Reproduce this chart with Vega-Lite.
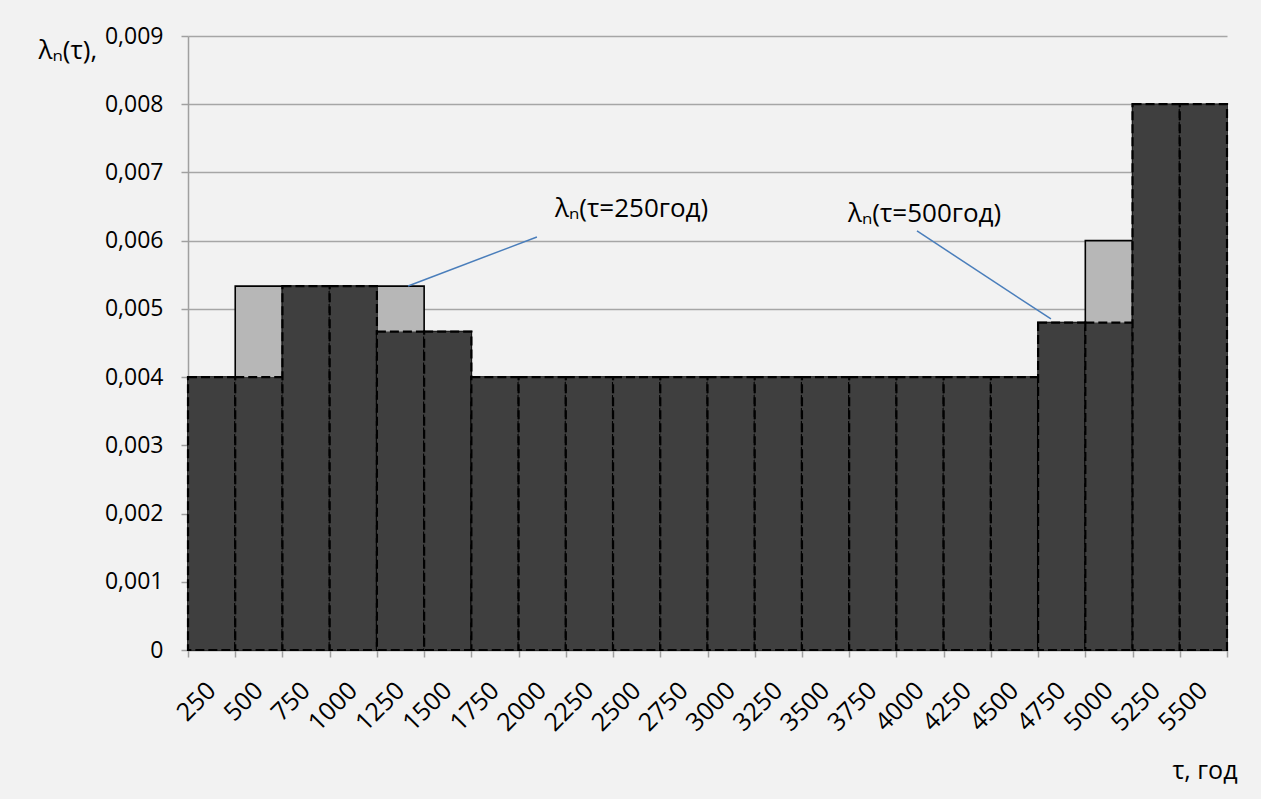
{
  "$schema": "https://vega.github.io/schema/vega-lite/v6.json",
  "autosize": {"type": "none"},
  "width": 1039,
  "height": 614,
  "padding": {"left": 188, "top": 36, "right": 34, "bottom": 149},
  "background": "#f2f2f2",
  "config": {
    "view": {"stroke": null},
    "font": "Open Sans",
    "axis": {"labelFont": "Open Sans", "titleFont": "Open Sans", "labelColor": "#000000", "titleColor": "#000000"}
  },
  "datasets": {
    "bars": [
      {"tau": 250, "lam250": 0.004, "lam500": 0.004},
      {"tau": 500, "lam250": 0.005333, "lam500": 0.004},
      {"tau": 750, "lam250": 0.005333, "lam500": 0.005333},
      {"tau": 1000, "lam250": 0.005333, "lam500": 0.005333},
      {"tau": 1250, "lam250": 0.005333, "lam500": 0.004667},
      {"tau": 1500, "lam250": 0.004667, "lam500": 0.004667},
      {"tau": 1750, "lam250": 0.004, "lam500": 0.004},
      {"tau": 2000, "lam250": 0.004, "lam500": 0.004},
      {"tau": 2250, "lam250": 0.004, "lam500": 0.004},
      {"tau": 2500, "lam250": 0.004, "lam500": 0.004},
      {"tau": 2750, "lam250": 0.004, "lam500": 0.004},
      {"tau": 3000, "lam250": 0.004, "lam500": 0.004},
      {"tau": 3250, "lam250": 0.004, "lam500": 0.004},
      {"tau": 3500, "lam250": 0.004, "lam500": 0.004},
      {"tau": 3750, "lam250": 0.004, "lam500": 0.004},
      {"tau": 4000, "lam250": 0.004, "lam500": 0.004},
      {"tau": 4250, "lam250": 0.004, "lam500": 0.004},
      {"tau": 4500, "lam250": 0.004, "lam500": 0.004},
      {"tau": 4750, "lam250": 0.0048, "lam500": 0.0048},
      {"tau": 5000, "lam250": 0.006, "lam500": 0.0048},
      {"tau": 5250, "lam250": 0.008, "lam500": 0.008},
      {"tau": 5500, "lam250": 0.008, "lam500": 0.008}
    ],
    "leaders": [
      {"ax": 1972, "ay": 0.006054, "bx": 1290, "by": 0.005336},
      {"ax": 3984, "ay": 0.006142, "bx": 4693, "by": 0.004852}
    ],
    "labels": [
      {"ax": 2068, "ay": 0.006347, "text": "λₙ(τ=250год)"},
      {"ax": 3619, "ay": 0.006274, "text": "λₙ(τ=500год)"}
    ],
    "edges": [
      {"e": 125}
    ]
  },
  "layer": [
    {
      "data": {"name": "bars"},
      "layer": [
        {
          "mark": {"type": "bar", "fill": "#b7b7b7", "stroke": "#000000", "strokeWidth": 1.6},
          "encoding": {
            "x": {
              "field": "tau", "type": "ordinal",
              "scale": {"paddingInner": 0, "paddingOuter": 0},
              "axis": {
                "title": "τ, год",
                "titleFontSize": 25, "titleFontWeight": "normal",
                "titleAlign": "right", "titleAnchor": null, "titleAngle": 0,
                "titleBaseline": "alphabetic", "titleX": 1049, "titleY": 128,
                "labelAngle": -45, "labelAlign": "right", "labelBaseline": "middle",
                "labelFontSize": 25, "labelPadding": 36,
                "ticks": false, "domain": true, "domainColor": "#a0a0a0", "domainWidth": 1.5,
                "grid": false
              }
            },
            "y": {
              "field": "lam250", "type": "quantitative",
              "scale": {"domain": [0, 0.009], "nice": false},
              "axis": {
                "title": "λₙ(τ),",
                "titleFontSize": 26, "titleFontWeight": "normal",
                "titleAngle": 0, "titleAlign": "left", "titleBaseline": "alphabetic",
                "titleAnchor": null, "titleX": -150, "titleY": 22,
                "values": [0, 0.001, 0.002, 0.003, 0.004, 0.005, 0.006, 0.007, 0.008, 0.009],
                "labelExpr": "datum.value == 0 ? '0' : replace(format(datum.value, '.3f'), '.', ',')",
                "labelFontSize": 23, "labelPadding": 18, "labelBaseline": "middle",
                "tickSize": 7, "tickColor": "#a0a0a0", "tickWidth": 1.5,
                "domainColor": "#a0a0a0", "domainWidth": 1.5,
                "grid": true, "gridColor": "#a6a6a6", "gridWidth": 1.5
              }
            }
          }
        },
        {
          "mark": {"type": "bar", "fill": "#3f3f3f", "stroke": "#000000", "strokeWidth": 2.2, "strokeDash": [9, 4]},
          "encoding": {
            "x": {"field": "tau", "type": "ordinal", "scale": {"paddingInner": 0, "paddingOuter": 0}},
            "y": {"field": "lam500", "type": "quantitative"}
          }
        }
      ]
    },
    {
      "layer": [
        {
          "data": {"name": "edges"},
          "mark": {"type": "rule", "opacity": 0},
          "encoding": {
            "x": {
              "field": "e", "type": "quantitative",
              "scale": {"domain": [125, 5625], "nice": false, "zero": false},
              "axis": {
                "orient": "bottom",
                "title": null, "labels": false, "domain": false, "grid": false,
                "values": [125, 375, 625, 875, 1125, 1375, 1625, 1875, 2125, 2375, 2625, 2875, 3125, 3375, 3625, 3875, 4125, 4375, 4625, 4875, 5125, 5375, 5625],
                "ticks": true, "tickSize": 7, "tickColor": "#a0a0a0", "tickWidth": 1.5
              }
            }
          }
        },
        {
          "data": {"name": "leaders"},
          "mark": {"type": "rule", "color": "#4a7ebb", "strokeWidth": 1.5},
          "encoding": {
            "x": {"field": "ax", "type": "quantitative"},
            "y": {"field": "ay", "type": "quantitative"},
            "x2": {"field": "bx"},
            "y2": {"field": "by"}
          }
        },
        {
          "data": {"name": "labels"},
          "mark": {"type": "text", "align": "left", "baseline": "alphabetic", "fontSize": 26, "color": "#000000"},
          "encoding": {
            "x": {"field": "ax", "type": "quantitative"},
            "y": {"field": "ay", "type": "quantitative"},
            "text": {"field": "text"}
          }
        }
      ]
    }
  ],
  "resolve": {"scale": {"x": "independent"}, "axis": {"x": "independent"}}
}
